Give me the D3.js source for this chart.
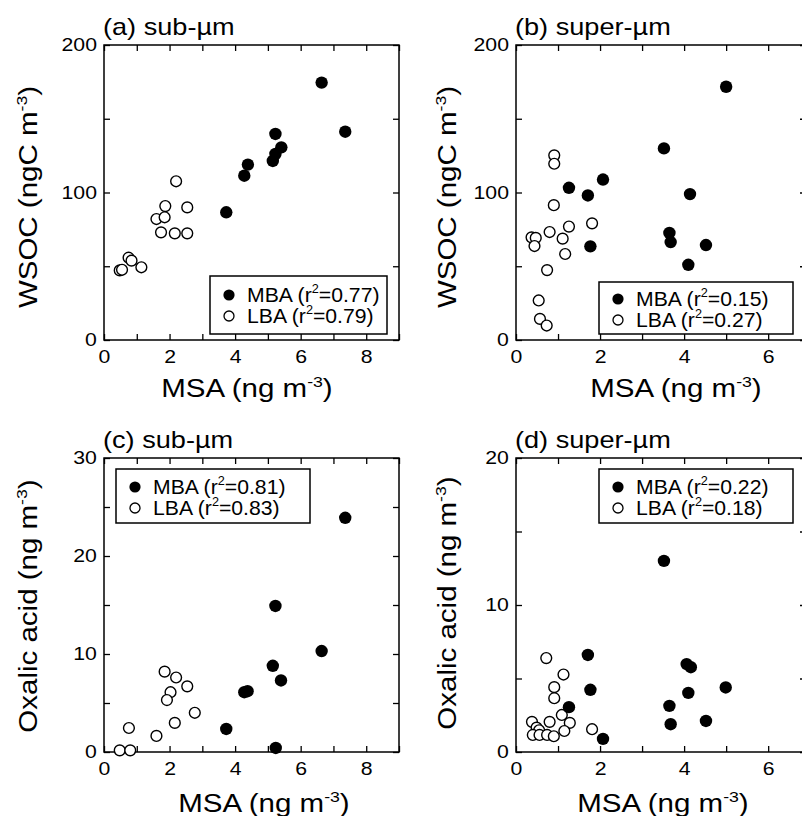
<!DOCTYPE html>
<html>
<head>
<meta charset="utf-8">
<script src="https://cdn.jsdelivr.net/npm/d3@7"></script>
<style>
  body { margin: 0; background: #fff; }
  svg { display: block; }
  text { font-family: "Liberation Sans", Arial, Helvetica, sans-serif; fill: #000; }
</style>
</head>
<body>
<div id="chart"></div>
<script>
// MSA vs WSOC / oxalic acid, [MSA, value] pairs
var subWsocMBA = [[6.64,174.5],[7.36,141.2],[5.23,139.7],[5.41,130.6],[5.23,126.1],[5.15,121.4],[4.39,118.9],[4.28,111.4],[3.73,86.6]];
var subWsocLBA = [[2.20,107.6],[1.87,90.8],[2.54,89.9],[1.60,82.0],[1.85,83.2],[1.74,73.0],[2.16,72.3],[2.54,72.3],[0.75,55.8],[0.84,53.8],[1.14,49.3],[0.48,47.2],[0.55,47.6]];
var superWsocMBA = [[5.00,171.7],[3.52,129.9],[2.07,108.8],[1.26,103.2],[1.71,98.0],[4.14,98.9],[3.65,72.6],[3.68,66.4],[1.77,63.5],[4.52,64.4],[4.10,51.0]];
var superWsocLBA = [[0.91,125.2],[0.91,119.5],[0.90,91.4],[1.81,79.1],[1.26,76.9],[0.80,73.2],[1.11,68.7],[0.37,69.6],[0.47,69.2],[0.44,63.7],[1.17,58.3],[0.74,47.4],[0.54,26.8],[0.57,14.3],[0.73,9.8]];
var subOxMBA = [[7.36,23.9],[5.23,14.9],[6.64,10.3],[5.15,8.8],[5.40,7.3],[4.38,6.2],[4.28,6.1],[3.73,2.35],[5.24,0.41]];
var subOxLBA = [[1.85,8.2],[2.20,7.6],[2.54,6.7],[2.03,6.1],[1.92,5.3],[2.77,4.0],[2.16,2.97],[0.76,2.45],[1.60,1.64],[0.48,0.17],[0.80,0.17]];
var superOxMBA = [[3.52,13.0],[1.71,6.6],[4.06,5.98],[4.16,5.77],[1.77,4.23],[4.99,4.39],[4.10,4.02],[1.26,3.05],[3.65,3.14],[4.52,2.11],[3.68,1.89],[2.07,0.89]];
var superOxLBA = [[0.72,6.39],[1.13,5.27],[0.91,4.41],[0.91,3.66],[1.09,2.52],[0.38,2.05],[0.80,2.05],[1.28,1.98],[0.49,1.66],[0.55,1.48],[1.15,1.43],[1.81,1.55],[0.40,1.16],[0.56,1.16],[0.74,1.16],[0.90,1.07]];

var panelTitles = ["(a) sub-\u00b5m", "(b) super-\u00b5m", "(c) sub-\u00b5m", "(d) super-\u00b5m"];
var r2MBA = ["0.77", "0.15", "0.81", "0.22"];
var r2LBA = ["0.79", "0.27", "0.83", "0.18"];

var W = 802, H = 816;
var SX = 1.18; // glyphs in the original are wide for their height

var svg = d3.select("#chart").append("svg")
    .attr("width", W)
    .attr("height", H);

svg.append("rect").attr("width", W).attr("height", H).attr("fill", "#fff");

// put text in a stretched group
function stext(x, y, size, anchor, rot) {
    var g = svg.append("g")
        .attr("transform", "translate(" + x + "," + y + ") rotate(" + (rot || 0) + ") scale(" + SX + ",1)");
    return g.append("text")
        .attr("font-size", size)
        .attr("text-anchor", anchor);
}

function supText(t, main, sup, rest, size, supSize, shift) {
    t.append("tspan").text(main);
    t.append("tspan").attr("font-size", supSize).attr("dy", -shift).text(sup);
    t.append("tspan").attr("dy", shift).text(rest);
}

function panel(p) {
    var x = d3.scaleLinear().domain(p.xDomain).range([p.x0, p.x0 + p.w]);
    var y = d3.scaleLinear().domain(p.yDomain).range([p.y0 + p.h, p.y0]);
    var xt = d3.range(0, Math.floor(p.xDomain[1]) + 1, 1);
    var yt = d3.range(0, p.yDomain[1] + 0.001, p.yStep);

    var g = svg.append("g");

    g.append("g")
        .attr("transform", "translate(0," + (p.y0 + p.h) + ")")
        .call(d3.axisBottom(x).tickValues(xt).tickSizeInner(-6).tickSizeOuter(0).tickPadding(10)
            .tickFormat(function(d) { return d % 2 === 0 ? d : ""; }));
    g.append("g")
        .attr("transform", "translate(0," + p.y0 + ")")
        .call(d3.axisTop(x).tickValues(xt).tickSizeInner(-6).tickSizeOuter(0).tickFormat(""));
    g.append("g")
        .attr("transform", "translate(" + p.x0 + ",0)")
        .call(d3.axisLeft(y).tickValues(yt).tickSizeInner(-6).tickSizeOuter(0).tickPadding(6)
            .tickFormat(function(d) { return d % p.yLab === 0 ? d : ""; }));
    g.append("g")
        .attr("transform", "translate(" + (p.x0 + p.w) + ",0)")
        .call(d3.axisRight(y).tickValues(yt).tickSizeInner(-6).tickSizeOuter(0).tickFormat(""));

    g.selectAll(".domain").remove();
    g.selectAll(".tick line").attr("stroke", "#000").attr("stroke-width", 1.3);
    g.selectAll(".tick text")
        .attr("font-size", 18)
        .attr("font-family", "Liberation Sans, Arial, sans-serif")
        .attr("fill", "#000")
        .attr("transform", "scale(" + SX + ",1)");

    g.append("rect")
        .attr("x", p.x0).attr("y", p.y0)
        .attr("width", p.w).attr("height", p.h)
        .attr("fill", "none").attr("stroke", "#000").attr("stroke-width", 1.5);

    g.selectAll(".lba").data(p.lba).enter().append("circle")
        .attr("cx", function(d) { return x(d[0]); })
        .attr("cy", function(d) { return y(d[1]); })
        .attr("r", 5.4)
        .attr("fill", "#fff").attr("stroke", "#000").attr("stroke-width", 1.4);
    g.selectAll(".mba").data(p.mba).enter().append("circle")
        .attr("cx", function(d) { return x(d[0]); })
        .attr("cy", function(d) { return y(d[1]); })
        .attr("r", 6.2)
        .attr("fill", "#000");

    // legend
    var L = p.legend;
    g.append("rect")
        .attr("x", L.x).attr("y", L.y).attr("width", L.w).attr("height", L.h)
        .attr("fill", "#fff").attr("stroke", "#000").attr("stroke-width", 1.5);
    [0, 1].forEach(function(i) {
        var cy = L.y + L.r1 + i * 21;
        g.append("circle")
            .attr("cx", L.x + 19).attr("cy", cy)
            .attr("r", i === 0 ? 5.6 : 5.0)
            .attr("fill", i === 0 ? "#000" : "#fff")
            .attr("stroke", "#000").attr("stroke-width", i === 0 ? 0 : 1.3);
        var gg = g.append("g")
            .attr("transform", "translate(" + (L.x + 37) + "," + (cy + 7) + ") scale(1.06,1)");
        var t = gg.append("text").attr("font-size", 20);
        t.append("tspan").text((i === 0 ? "MBA" : "LBA") + " (r");
        t.append("tspan").attr("font-size", 12).attr("dy", -9).text("2");
        t.append("tspan").attr("dy", 9).text("=" + (i === 0 ? p.r2m : p.r2l) + ")");
    });

    // titles
    stext(p.x0 - 1, p.y0 - 10, 23, "start").text(p.title);
    supText(stext(p.xtx, p.xty, 25, "middle"), "MSA (ng m", "-3", ")", 25, 15, 10);
    supText(stext(p.ytx, p.yty, 25, "middle", -90), p.ylab, "-3", ")", 25, 15, 10);
}

var leftX = 104, rightX = 516, topY = 45, botY = 458;

panel({ x0: leftX, y0: topY, w: 295, h: 295, xDomain: [0, 9], yDomain: [0, 200], yStep: 50, yLab: 100,
    mba: subWsocMBA, lba: subWsocLBA, title: panelTitles[0], r2m: r2MBA[0], r2l: r2LBA[0],
    legend: { x: 210, y: 276, w: 177, h: 58, r1: 19 },
    xtx: 247, xty: 397, ytx: 37, yty: 197, ylab: "WSOC (ngC m" });
panel({ x0: rightX, y0: topY, w: 290, h: 295, xDomain: [0, 6.9], yDomain: [0, 200], yStep: 50, yLab: 100,
    mba: superWsocMBA, lba: superWsocLBA, title: panelTitles[1], r2m: r2MBA[1], r2l: r2LBA[1],
    legend: { x: 599, y: 282, w: 194, h: 52, r1: 17 },
    xtx: 676, xty: 397, ytx: 456, yty: 197, ylab: "WSOC (ngC m" });
panel({ x0: leftX, y0: botY, w: 295, h: 294, xDomain: [0, 9], yDomain: [0, 30], yStep: 5, yLab: 10,
    mba: subOxMBA, lba: subOxLBA, title: panelTitles[2], r2m: r2MBA[2], r2l: r2LBA[2],
    legend: { x: 116, y: 469, w: 194, h: 54, r1: 18 },
    xtx: 264, xty: 812, ytx: 37, yty: 606, ylab: "Oxalic acid (ng m" });
panel({ x0: rightX, y0: botY, w: 290, h: 294, xDomain: [0, 6.9], yDomain: [0, 20], yStep: 5, yLab: 10,
    mba: superOxMBA, lba: superOxLBA, title: panelTitles[3], r2m: r2MBA[3], r2l: r2LBA[3],
    legend: { x: 599, y: 469, w: 194, h: 54, r1: 18 },
    xtx: 663, xty: 812, ytx: 456, yty: 603, ylab: "Oxalic acid (ng m" });
</script>
</body>
</html>
